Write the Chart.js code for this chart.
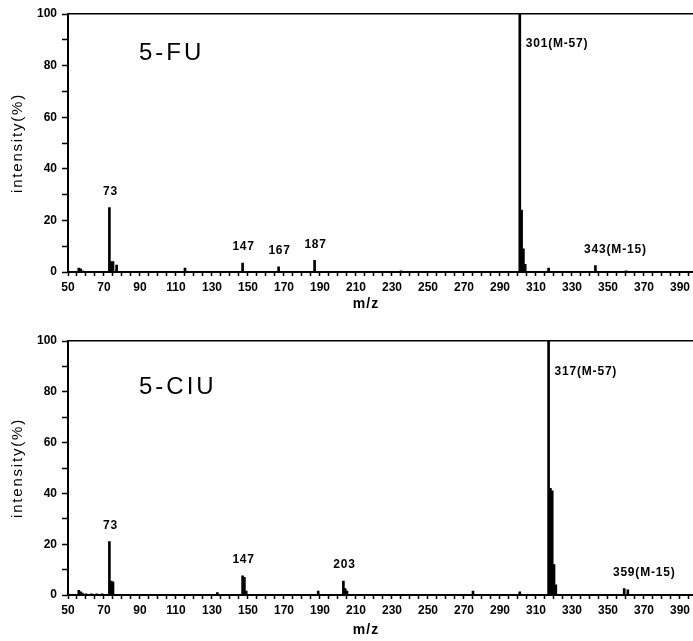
<!DOCTYPE html>
<html><head><meta charset="utf-8">
<script src="https://cdn.jsdelivr.net/npm/chart.js@4"></script>
<style>
html,body{margin:0;padding:0;background:#fff;}
#w1{position:absolute;left:0;top:0;width:693px;height:320px;}
#w2{position:absolute;left:0;top:320px;width:693px;height:321px;}
</style></head><body>
<div id="w1"><canvas id="c1" width="693" height="320"></canvas></div>
<div id="w2"><canvas id="c2" width="693" height="321"></canvas></div>
<script>
// ---------- data ----------
const xLabelValues = [50,70,90,110,130,150,170,190,210,230,250,270,290,310,330,350,370,390];
const yLabelValues = [0,20,40,60,80,100];

const fuTitle = '5-FU';
const fuMz  = [56, 57, 58, 73, 74, 75, 77, 115, 147, 167, 187, 235, 301, 302, 303, 304, 317, 343, 360];
const fuInt = [1.5,1.2,0.5,25, 4,  4,  2.7,1.5, 3.5, 2,   4.5, 0.5, 100, 24,  9,   3,   1.5, 2.5, 0.5];
const fuLabelMz   = [73, 147, 167, 187, 301, 343];
const fuLabelText = ['73','147','167','187','301(M-57)','343(M-15)'];

const cluTitle = '5-CIU';
const cluMz  = [56, 57, 58, 60, 63, 66, 69, 73, 74, 75, 133, 147, 148, 149, 189, 203, 204, 205, 275, 301, 317, 318, 319, 320, 321, 359, 361];
const cluInt = [1.8,1.2,0.8,0.5,0.5,0.5,0.5,21, 5.5,5.2,1,   7.5, 7,   1.5, 1.5, 5.5, 2.5, 1.5, 1.5, 1.2, 100, 42,  41,  12,  4,   2.5, 2];
const cluLabelMz   = [73, 147, 203, 317, 359];
const cluLabelText = ['73','147','203','317(M-57)','359(M-15)'];

// ---------- drawing ----------
const FONT = '"Liberation Sans", Arial, Helvetica, sans-serif';

const textPlugin = {
  id: 'texts',
  afterDraw(chart, args, o) {
    const {ctx, chartArea: ca, scales: {x, y}} = chart;
    ctx.save();
    ctx.fillStyle = '#000';
    // panel title
    ctx.font = '24px ' + FONT;
    ctx.letterSpacing = '3px';
    ctx.textAlign = 'left';
    ctx.textBaseline = 'middle';
    ctx.fillText(o.title, ca.left + 71, ca.top + o.titleDy);
    // y-axis title
    ctx.font = '15px ' + FONT;
    ctx.letterSpacing = '1.8px';
    ctx.save();
    ctx.translate(18, (ca.top + ca.bottom) / 2);
    ctx.rotate(-Math.PI / 2);
    ctx.textAlign = 'center';
    ctx.fillText('intensity(%)', 0, 0);
    ctx.restore();
    // x-axis title
    ctx.font = 'bold 14px ' + FONT;
    ctx.letterSpacing = '1px';
    ctx.textAlign = 'center';
    ctx.fillText('m/z', 366, ca.bottom + o.xTitleDy);
    // peak labels
    ctx.font = 'bold 12px ' + FONT;
    ctx.letterSpacing = '0.8px';
    o.labelMz.forEach((m, i) => {
      const t = o.labelText[i];
      const idx = o.mz.indexOf(m);
      const px = x.getPixelForValue(m);
      const py = y.getPixelForValue(o.inten[idx]);
      if (o.inten[idx] >= 99) {
        ctx.textAlign = 'left';
        ctx.fillText(t, px + 6, ca.top + o.mainDy);
      } else if (t.indexOf('(') >= 0) {
        ctx.textAlign = 'center';
        ctx.fillText(t, px + 20, py - 16);
      } else {
        ctx.textAlign = 'center';
        ctx.fillText(t, px + 1, py - 16);
      }
    });
    ctx.restore();
  }
};
Chart.register(textPlugin);

function makeChart(id, mz, inten, cfg) {
  const pts = mz.map((m, i) => ({x: m, y: inten[i]}));
  return new Chart(document.getElementById(id), {
    type: 'bar',
    data: {datasets: [{data: pts, backgroundColor: '#000', borderWidth: 0, barThickness: 2, grouped: false}]},
    options: {
      responsive: false, animation: false, devicePixelRatio: 1,
      layout: {padding: {top: cfg.padTop, left: 0, right: 0, bottom: 0}},
      plugins: {
        legend: {display: false}, tooltip: {enabled: false},
        texts: {title: cfg.title, titleDy: cfg.titleDy, xTitleDy: cfg.xTitleDy, mainDy: cfg.mainDy,
                mz: mz, inten: inten, labelMz: cfg.labelMz, labelText: cfg.labelText}
      },
      scales: {
        x: {
          type: 'linear', min: 50, max: 397, offset: false,
          afterFit(s) { s.height = cfg.xHeight; },
          grid: {drawOnChartArea: false, drawTicks: true, tickLength: 4, tickWidth: 1.5, tickColor: '#000', offset: false},
          border: {display: true, color: '#000', width: 2},
          ticks: {
            stepSize: 5, autoSkip: false, maxRotation: 0, minRotation: 0, includeBounds: false,
            color: '#000', padding: 4, font: {family: FONT, size: 12, weight: 'bold'},
            callback: v => xLabelValues.includes(Math.round(v)) ? String(Math.round(v)) : ''
          }
        },
        x2: {
          type: 'linear', position: 'top', min: 50, max: 397,
          afterFit(s) { s.height = 0; },
          grid: {display: false, drawTicks: false},
          border: {display: true, color: '#000', width: 1.5},
          ticks: {display: false}
        },
        y: {
          min: 0, max: 100,
          afterFit(s) { s.width = 68; },
          grid: {drawOnChartArea: false, drawTicks: true, tickLength: 6, tickWidth: 1.5, tickColor: '#000'},
          border: {display: true, color: '#000', width: 2},
          ticks: {
            stepSize: 10, autoSkip: false, color: '#000', padding: 5,
            font: {family: FONT, size: 12, weight: 'bold'},
            callback: v => yLabelValues.includes(v) ? String(v) : ''
          }
        }
      }
    }
  });
}

makeChart('c1', fuMz, fuInt, {
  title: fuTitle, padTop: 14, xHeight: 48, titleDy: 39, xTitleDy: 32, mainDy: 30,
  labelMz: fuLabelMz, labelText: fuLabelText
});
makeChart('c2', cluMz, cluInt, {
  title: cluTitle, padTop: 21, xHeight: 46, titleDy: 46, xTitleDy: 35, mainDy: 31,
  labelMz: cluLabelMz, labelText: cluLabelText
});
</script>
</body></html>
